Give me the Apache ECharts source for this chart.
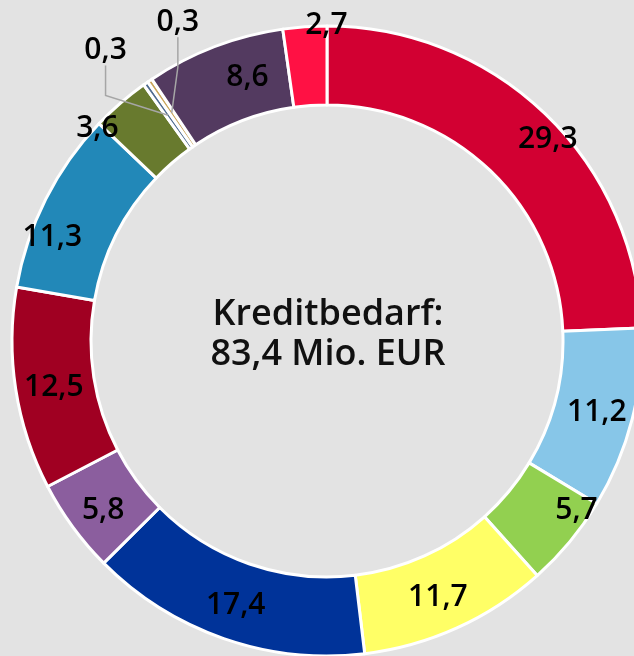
<!DOCTYPE html>
<html>
<head>
<meta charset="utf-8">
<title>Kreditbedarf</title>
<script src="https://cdn.jsdelivr.net/npm/echarts@6/dist/echarts.min.js"></script>
<style>
  html, body { margin: 0; padding: 0; background: #e3e3e3; }
  #chart { width: 634px; height: 656px; }
</style>
</head>
<body>
<div id="chart"></div>
<script>
// values in Mio. EUR, clockwise from 12 o'clock
const categories = ['A', 'B', 'C', 'D', 'E', 'F', 'G', 'H', 'I', 'J', 'K', 'L', 'M'];
const values = [29.3, 11.2, 5.7, 11.7, 17.4, 5.8, 12.5, 11.3, 3.6, 0.3, 0.3, 8.6, 2.7];
const colors = ['#d20032', '#87c6e8', '#92d050', '#ffff66', '#003399', '#8b5e9e',
  '#a00022', '#2288b8', '#687a2e', '#4f6b8f', '#c9a55a', '#533a60', '#ff1144'];
const centerText = ['Kreditbedarf:', '83,4 Mio. EUR'];

// label placement tweaks (px) to mimic the "best fit" placement of the original
const labelNudge = [[28, -1], [0, 2], [35, -8], [-4, 3], [0, 1], [1, 5],
  [2, 4], [-26, 22], [-47, -2], [0, 0], [0, 0], [20, -3], [19, -38]];

const FONT = '"Open Sans", "Noto Sans", sans-serif';
const isTiny = (v) => v < 1;
const fmt = (p) => String(p.value).replace('.', ',');

const chart = echarts.init(document.getElementById('chart'));

const labelStyle = {
  fontFamily: FONT,
  fontSize: 30,
  fontWeight: 600,
  color: '#000',
  formatter: fmt,
};

// main ring, labels inside the big slices
const ringData = values.map((v, i) => ({
  name: categories[i],
  value: v,
  itemStyle: { color: colors[i] },
  label: { show: !isTiny(v) },
}));

// invisible copy ending in the middle of the ring: carries the callout
// labels of the tiny slices so the leader lines end mid-ring
const calloutData = values.map((v, i) => ({
  name: categories[i],
  value: v,
  label: { show: isTiny(v) },
  labelLine: { show: isTiny(v) },
}));

function nudgeLabel(p) {
  const n = labelNudge[p.dataIndex];
  return { dx: n[0], dy: n[1] };
}

function placeCallout(p) {
  const mx = p.rect.x + p.rect.width / 2;
  const my = p.rect.y + p.rect.height / 2;
  if (p.dataIndex === 9) {
    return { x: mx - 74, y: my - 81, align: 'center', verticalAlign: 'middle' };
  }
  return { x: mx - 5, y: my - 107, align: 'center', verticalAlign: 'middle' };
}

const option = {
  backgroundColor: '#e3e3e3',
  animation: false,
  title: {
    text: centerText.join('\n'),
    left: 323,
    top: 290,
    textAlign: 'center',
    textStyle: {
      fontFamily: FONT,
      fontSize: 36,
      fontWeight: 600,
      lineHeight: 40,
      color: '#111',
    },
  },
  series: [
    {
      type: 'pie',
      center: [327, 341],
      radius: [236, 315],
      startAngle: 90,
      clockwise: true,
      avoidLabelOverlap: false,
      itemStyle: {
        borderColor: '#ffffff',
        borderWidth: 3,
      },
      label: Object.assign({ position: 'inside' }, labelStyle),
      labelLine: { show: false },
      labelLayout: nudgeLabel,
      data: ringData,
    },
    {
      type: 'pie',
      center: [327, 341],
      radius: [236, 276],
      startAngle: 90,
      clockwise: true,
      silent: true,
      avoidLabelOverlap: false,
      itemStyle: { color: 'rgba(0,0,0,0)', borderWidth: 0 },
      label: Object.assign({ position: 'outside' }, labelStyle),
      labelLine: {
        showAbove: true,
        lineStyle: { color: '#a6a6a6', width: 1.5 },
      },
      labelLayout: placeCallout,
      data: calloutData,
    },
  ],
};

chart.setOption(option);
window.addEventListener('resize', () => chart.resize());
</script>
</body>
</html>
